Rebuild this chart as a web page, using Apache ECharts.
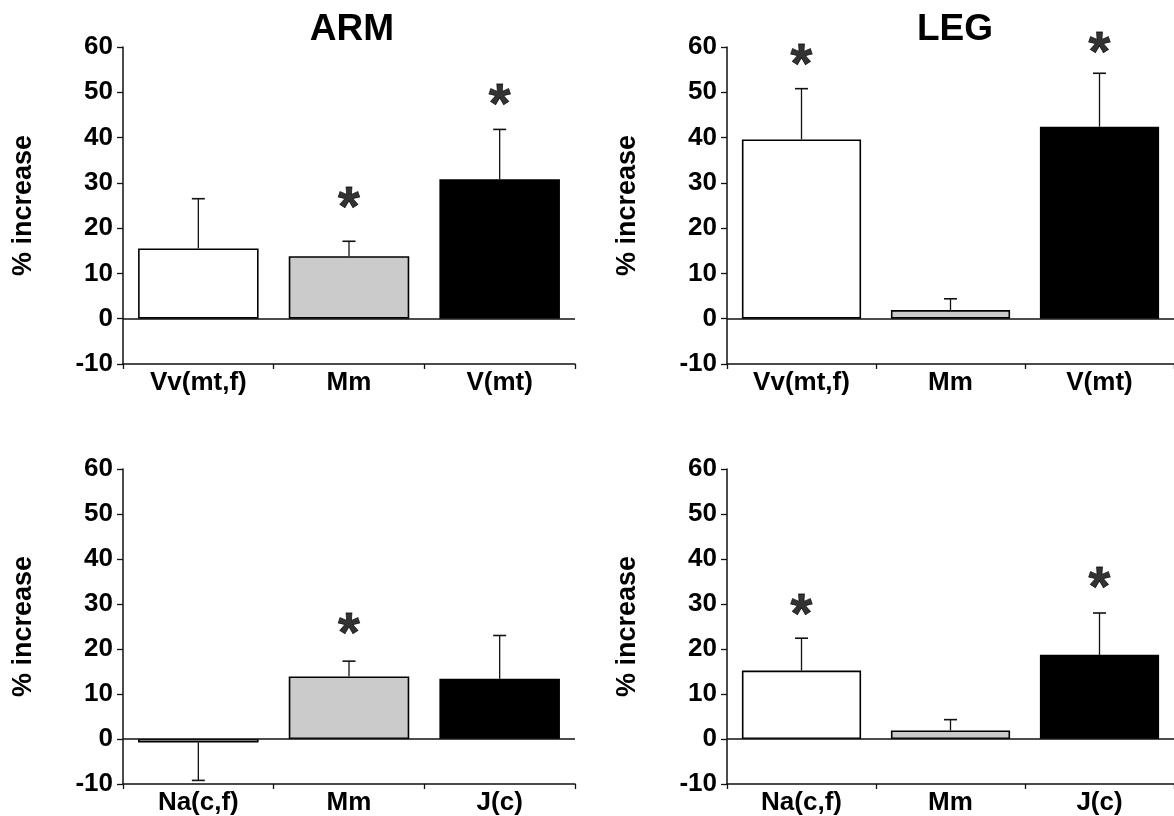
<!DOCTYPE html>
<html>
<head>
<meta charset="utf-8">
<title>ARM / LEG % increase</title>
<script src="https://cdn.jsdelivr.net/npm/echarts@6/dist/echarts.min.js"></script>
<style>
  html, body { margin: 0; padding: 0; background: #fff; }
  #main { width: 1174px; height: 816px; }
</style>
</head>
<body>
<div id="main"></div>
<script>
// categories
var topCats = ['Vv(mt,f)', 'Mm', 'V(mt)'];
var bottomCats = ['Na(c,f)', 'Mm', 'J(c)'];

// bar means (% increase)
var armTop = [15.5, 13.8, 30.8];
var legTop = [39.6, 1.9, 42.4];
var armBottom = [-0.8, 13.9, 13.4];
var legBottom = [15.2, 1.9, 18.7];

// end of error bar (value reached by the whisker)
var armTopErr = [26.5, 17.1, 41.8];
var legTopErr = [50.8, 4.4, 54.2];
var armBottomErr = [-9.2, 17.3, 23.0];
var legBottomErr = [22.4, 4.3, 28.0];

// significance marker (*) height, null = not significant
var armTopStar = [null, 26.8, 49.5];
var legTopStar = [58.3, null, 60.9];
var armBottomStar = [null, 25.6, null];
var legBottomStar = [29.8, null, 35.8];

var yTicks = [-10, 0, 10, 20, 30, 40, 50, 60];
var titles = ['ARM', 'LEG'];

var barColors = ['#ffffff', '#cbcbcb', '#000000'];
var FONT = '"Liberation Sans", Arial, Helvetica, sans-serif';

var myChart = echarts.init(document.getElementById('main'));

var grids = [], xAxes = [], yAxes = [], series = [];

function renderErr(params, api) {
    var base = api.coord([api.value(0), api.value(1)]);
    var end = api.coord([api.value(0), api.value(2)]);
    var w = 6.5;
    return {
        type: 'group',
        children: [
            { type: 'line', shape: { x1: base[0], y1: base[1], x2: end[0], y2: end[1] },
              style: { stroke: '#111', lineWidth: 1.3 } },
            { type: 'line', shape: { x1: end[0] - w, y1: end[1], x2: end[0] + w, y2: end[1] },
              style: { stroke: '#111', lineWidth: 1.6 } }
        ]
    };
}

function addPanel(idx, left, top, cats, vals, errs, starVals) {
    grids.push({ left: left, top: top, width: 452, height: 317, containLabel: false });
    xAxes.push({
        type: 'category', gridIndex: idx, data: cats, boundaryGap: true,
        axisLine: { onZero: false, lineStyle: { color: '#111', width: 1.5 } },
        axisTick: { show: true, length: 5, lineStyle: { color: '#111', width: 1.3 } },
        axisLabel: { color: '#000', fontFamily: FONT, fontWeight: 'bold', fontSize: 26, margin: 6 },
        splitLine: { show: false }
    });
    yAxes.push({
        type: 'value', gridIndex: idx, min: yTicks[0], max: yTicks[yTicks.length - 1], interval: 10,
        name: '% increase', nameLocation: 'middle', nameRotate: 90, nameGap: 86,
        nameTextStyle: { color: '#000', fontFamily: FONT, fontWeight: 'bold', fontSize: 27 },
        axisLine: { show: true, lineStyle: { color: '#111', width: 1.5 } },
        axisTick: { show: true, length: 6, lineStyle: { color: '#111', width: 1.3 } },
        axisLabel: { color: '#000', fontFamily: FONT, fontWeight: 'bold', fontSize: 26, margin: 10 },
        splitLine: { show: false }
    });
    series.push({
        type: 'bar', xAxisIndex: idx, yAxisIndex: idx, barWidth: '80%',
        data: vals.map(function (v, i) {
            return { value: v, itemStyle: { color: barColors[i], borderColor: '#000', borderWidth: 1.6 } };
        }),
        markLine: {
            silent: true, symbol: 'none', label: { show: false },
            lineStyle: { color: '#111', type: 'solid', width: 1.6 },
            data: [{ yAxis: 0 }]
        },
        z: 2
    });
    series.push({
        type: 'custom', xAxisIndex: idx, yAxisIndex: idx, renderItem: renderErr, clip: false,
        data: vals.map(function (v, i) { return [i, v, errs[i]]; }),
        z: 3
    });
    var stars = [];
    starVals.forEach(function (s, i) { if (s != null) stars.push([i, s]); });
    series.push({
        type: 'scatter', xAxisIndex: idx, yAxisIndex: idx, symbolSize: 1, clip: false,
        itemStyle: { color: 'rgba(0,0,0,0)' },
        label: {
            show: true, position: 'inside', formatter: '*', color: '#000',
            textBorderWidth: 0.8, textBorderColor: '#000',
            fontFamily: FONT, fontWeight: 'bold', fontSize: 56, offset: [0, 12]
        },
        data: stars,
        z: 4
    });
}

addPanel(0, 123, 47, topCats, armTop, armTopErr, armTopStar);
addPanel(1, 727, 47, topCats, legTop, legTopErr, legTopStar);
addPanel(2, 123, 469, bottomCats, armBottom, armBottomErr, armBottomStar);
addPanel(3, 727, 469, bottomCats, legBottom, legBottomErr, legBottomStar);

var option = {
    backgroundColor: '#fff',
    animation: false,
    title: [
        { text: titles[0], left: 352, top: 11, textAlign: 'center', padding: 0,
          textStyle: { color: '#000', fontFamily: FONT, fontWeight: 'bold', fontSize: 37 } },
        { text: titles[1], left: 955, top: 11, textAlign: 'center', padding: 0,
          textStyle: { color: '#000', fontFamily: FONT, fontWeight: 'bold', fontSize: 37 } }
    ],
    grid: grids,
    xAxis: xAxes,
    yAxis: yAxes,
    series: series
};

myChart.setOption(option);
</script>
</body>
</html>
